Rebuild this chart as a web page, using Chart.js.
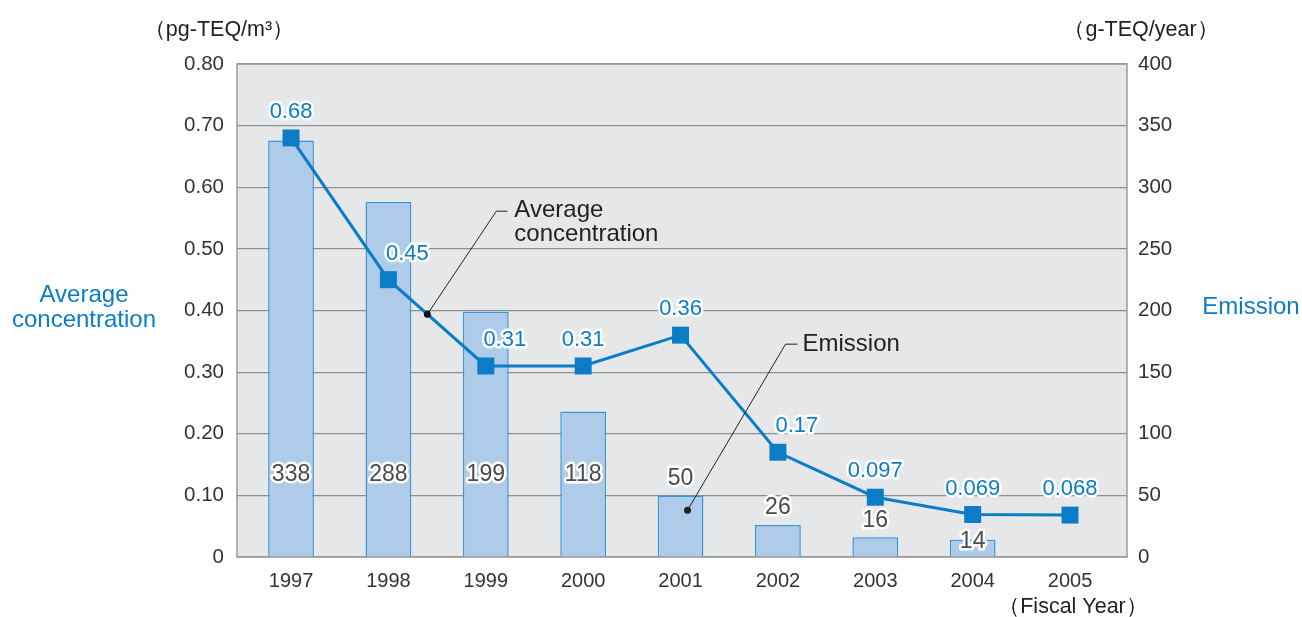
<!DOCTYPE html>
<html>
<head>
<meta charset="utf-8">
<script src="https://cdn.jsdelivr.net/npm/chart.js@4.4.0/dist/chart.umd.min.js"></script>
<style>
  html, body { margin: 0; padding: 0; background: #fff; }
  #wrap { width: 1302px; height: 617px; position: relative; }
</style>
</head>
<body>
<div id="wrap"><canvas id="chart" width="1302" height="617"></canvas></div>
<script>
// ---- DATA ----
const years = ['1997', '1998', '1999', '2000', '2001', '2002', '2003', '2004', '2005'];
const emission = [338, 288, 199, 118, 50, 26, 16, 14, null];          // g-TEQ/year (bars)
const concentration = [0.68, 0.45, 0.31, 0.31, 0.36, 0.17, 0.097, 0.069, 0.068]; // pg-TEQ/m3 (line)
const concLabels = ['0.68', '0.45', '0.31', '0.31', '0.36', '0.17', '0.097', '0.069', '0.068'];
const leftTicks = [0, 0.1, 0.2, 0.3, 0.4, 0.5, 0.6, 0.7, 0.8];
const rightTicks = [0, 50, 100, 150, 200, 250, 300, 350, 400];

// ---- STYLE ----
const FONT = "'Liberation Sans', Arial, Helvetica, sans-serif";
const blue = '#0b7cc6';
const barFill = '#aecbea';
const barEdge = '#3c95d8';
const plotBg = '#e6e7e9';
const gridCol = '#8e8e8e';
const frameCol = '#9c9c9c';
const txt = '#333333';

Chart.defaults.font.family = FONT;
Chart.defaults.color = txt;

function outlinedText(ctx, s, x, y, color, size, align) {
  ctx.save();
  ctx.font = size + 'px ' + FONT;
  ctx.textAlign = align || 'center';
  ctx.textBaseline = 'middle';
  ctx.lineJoin = 'round';
  ctx.lineWidth = 5;
  ctx.strokeStyle = '#ffffff';
  ctx.strokeText(s, x, y);
  ctx.fillStyle = color;
  ctx.fillText(s, x, y);
  ctx.restore();
}

// plot background + frame
const framePlugin = {
  id: 'frame',
  beforeDraw(chart) {
    const { ctx, chartArea: a } = chart;
    ctx.save();
    ctx.fillStyle = plotBg;
    ctx.fillRect(a.left, a.top, a.right - a.left, a.bottom - a.top);
    ctx.restore();
  },
  afterDatasetsDraw(chart) {
    const { ctx, chartArea: a } = chart;
    ctx.save();
    ctx.strokeStyle = frameCol;
    ctx.lineWidth = 1.5;
    ctx.strokeRect(a.left, a.top, a.right - a.left, a.bottom - a.top);
    ctx.restore();
  }
};

// value labels, callouts and axis titles
const labelPlugin = {
  id: 'labels',
  afterDraw(chart) {
    const { ctx, scales } = chart;
    const yR = scales.yR;
    const barMeta = chart.getDatasetMeta(1);
    const lineMeta = chart.getDatasetMeta(0);

    // callout: Average concentration (dot on segment 1998-1999)
    const p1 = lineMeta.data[1], p2 = lineMeta.data[2];
    const dx = p1.x + (p2.x - p1.x) * 0.4, dy = p1.y + (p2.y - p1.y) * 0.4;
    ctx.save();
    ctx.strokeStyle = '#222';
    ctx.lineWidth = 1;
    ctx.beginPath();
    ctx.moveTo(dx, dy);
    ctx.lineTo(dx + 69, dy - 103);
    ctx.lineTo(dx + 80, dy - 103);
    ctx.stroke();
    ctx.fillStyle = '#111';
    ctx.beginPath(); ctx.arc(dx, dy, 3.5, 0, Math.PI * 2); ctx.fill();
    ctx.font = '24px ' + FONT;
    ctx.textAlign = 'left';
    ctx.textBaseline = 'middle';
    ctx.fillStyle = '#222';
    ctx.fillText('Average', dx + 87, dy - 104);
    ctx.fillText('concentration', dx + 87, dy - 80);

    // callout: Emission (dot inside 2001 bar)
    const b = barMeta.data[4];
    const ex = b.x + 7, ey = yR.getPixelForValue(38);
    ctx.beginPath();
    ctx.moveTo(ex, ey);
    ctx.lineTo(ex + 98, ey - 166);
    ctx.lineTo(ex + 110, ey - 166);
    ctx.stroke();
    ctx.beginPath(); ctx.arc(ex, ey, 3.5, 0, Math.PI * 2); ctx.fill();
    ctx.fillText('Emission', ex + 115, ey - 166);
    ctx.restore();

    // bar labels: inside tall bars at a fixed height, above short bars,
    // pushed below the line marker when they would collide with it
    const fixedY = yR.getPixelForValue(67);
    barMeta.data.forEach((bar, i) => {
      if (emission[i] == null) return;
      let y = Math.max(fixedY, bar.y - 17);
      const pt = lineMeta.data[i];
      if (Math.abs(pt.y - y) < 20) y = pt.y + 27;
      outlinedText(ctx, String(emission[i]), bar.x, y, '#4a4a4a', 23);
    });

    // line labels (shifted right where the line drops steeply into the point)
    lineMeta.data.forEach((pt, i) => {
      const drop = i > 0 ? concentration[i - 1] - concentration[i] : 0;
      const sx = drop > 0.1 ? 19 : 0;
      outlinedText(ctx, concLabels[i], pt.x + sx, pt.y - 26, blue, 22);
    });

    // axis titles / units
    ctx.save();
    ctx.textBaseline = 'middle';
    ctx.textAlign = 'center';
    ctx.font = '24px ' + FONT;
    ctx.fillStyle = blue;
    ctx.fillText('Average', 84, 295);
    ctx.fillText('concentration', 84, 320);
    ctx.fillText('Emission', 1251, 307);
    ctx.font = '21.5px ' + FONT;
    ctx.fillStyle = '#222';
    ctx.fillText('（pg-TEQ/m³）', 219, 30);
    ctx.fillText('（g-TEQ/year）', 1141, 30);
    ctx.fillText('（Fiscal Year）', 1073, 607);
    ctx.restore();
  }
};

new Chart(document.getElementById('chart'), {
  data: {
    labels: years,
    datasets: [
      {
        type: 'line',
        label: 'Average concentration',
        data: concentration,
        yAxisID: 'yL',
        borderColor: blue,
        backgroundColor: blue,
        borderWidth: 3,
        tension: 0,
        pointStyle: 'rect',
        pointRadius: 12,
        pointBorderWidth: 0,
        pointBackgroundColor: blue,
        order: 0,
      },
      {
        type: 'bar',
        label: 'Emission',
        data: emission,
        yAxisID: 'yR',
        backgroundColor: barFill,
        borderColor: barEdge,
        borderWidth: 1.5,
        categoryPercentage: 1,
        barPercentage: 0.47,
        order: 1,
      }
    ]
  },
  options: {
    responsive: false,
    animation: false,
    layout: { padding: { top: 64, bottom: 0, left: 0, right: 0 } },
    plugins: {
      legend: { display: false },
      tooltip: { enabled: false },
    },
    scales: {
      x: {
        offset: true,
        grid: { display: false, drawTicks: false },
        border: { display: false },
        ticks: { font: { size: 20 }, color: txt, padding: 12 },
        afterFit: s => { s.height = 60; },
        // slightly wider end margins than the default half-category offset
        afterUpdate: s => { s._startValue = -0.555; s._valueRange = 9.14; },
      },
      yL: {
        position: 'left',
        min: 0,
        max: 0.8,
        afterBuildTicks: s => { s.ticks = leftTicks.map(v => ({ value: v })); },
        ticks: {
          font: { size: 20.5 },
          color: txt,
          padding: 13,
          callback: v => v === 0 ? '0' : v.toFixed(2),
        },
        grid: { color: gridCol, lineWidth: 1.2, drawTicks: false },
        border: { display: false },
        afterFit: s => { s.width = 237; },
      },
      yR: {
        position: 'right',
        min: 0,
        max: 400,
        afterBuildTicks: s => { s.ticks = rightTicks.map(v => ({ value: v })); },
        ticks: { font: { size: 20.5 }, color: txt, padding: 11 },
        grid: { display: false, drawTicks: false },
        border: { display: false },
        afterFit: s => { s.width = 175; },
      }
    }
  },
  plugins: [framePlugin, labelPlugin]
});
</script>
</body>
</html>
